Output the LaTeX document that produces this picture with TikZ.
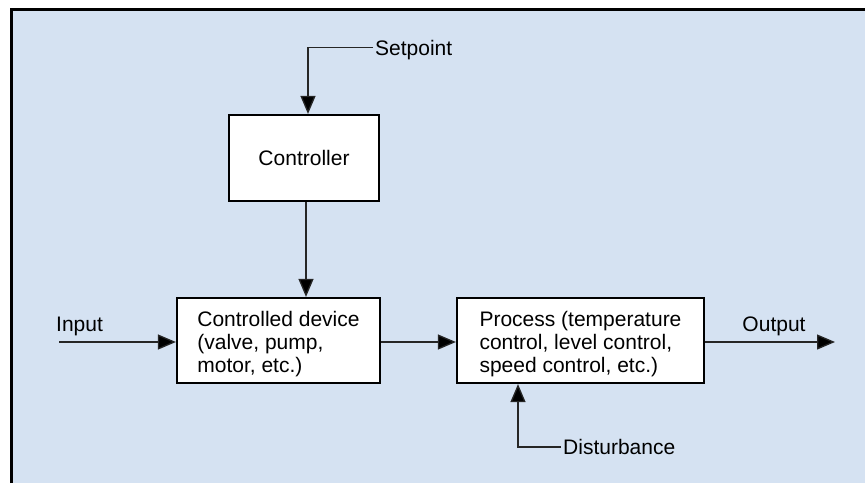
\documentclass[tikz,border=0pt]{standalone}
\usepackage{fontspec}
\setmainfont{Liberation Sans}
\usetikzlibrary{arrows.meta,calc}
\definecolor{bg}{RGB}{213,226,242}
\newcommand{\firstline}{\rule{0pt}{22pt}}
\begin{document}
\begin{tikzpicture}[x=1pt,y=-1pt,
  box/.style={draw=black, line width=2.2pt, fill=white, align=left,
    font=\fontsize{21}{23}\selectfont, inner sep=0pt},
  lbl/.style={font=\fontsize{21}{23}\selectfont, inner sep=0pt,
    text height=15pt, text depth=0pt},
  arr/.style={line width=1.3pt, draw=black!85,
    -{Triangle[length=18pt,width=15pt,fill=black]}}]
\useasboundingbox (0,0) rectangle (865,483);
\fill[bg] (10,9) rectangle (865,483);
\draw[line width=3pt] (11,483) -- (11,9.5) -- (865,9.5);

\node[box, minimum width=150pt, minimum height=86pt] (ctrl) at (304,158) {Controller};
\node[box, minimum width=203pt, minimum height=85pt] (dev) at (278.5,340.5)
  {\firstline Controlled device\\(valve, pump,\\motor, etc.)};
\node[box, minimum width=247pt, minimum height=85pt] (proc) at (580.5,340.5)
  {\firstline Process (temperature\\control, level control,\\speed control, etc.)};

\node[lbl, anchor=west] (sp) at (375,47.7) {Setpoint};
\node[lbl, anchor=west] (inp) at (56,324) {Input};
\node[lbl] (out) at (774,323.5) {Output};
\node[lbl, anchor=west] (dist) at (563,447) {Disturbance};

\coordinate (inS) at (59,342);
\coordinate (outE) at (835,342);

\draw[arr] ([xshift=-2pt]sp.west) -| ([xshift=4pt]ctrl.north);
\draw[arr] ([xshift=2pt]ctrl.south) -- ([xshift=2pt]ctrl.south |- dev.north);
\draw[arr] (inS) -- (inS -| dev.west);
\draw[arr] (dev.east |- inS) -- (inS -| proc.west);
\draw[arr] (proc.east |- outE) -- (outE);
\draw[arr] ([xshift=-2pt]dist.west) -| ([xshift=-62.5pt]proc.south);
\end{tikzpicture}
\end{document}
